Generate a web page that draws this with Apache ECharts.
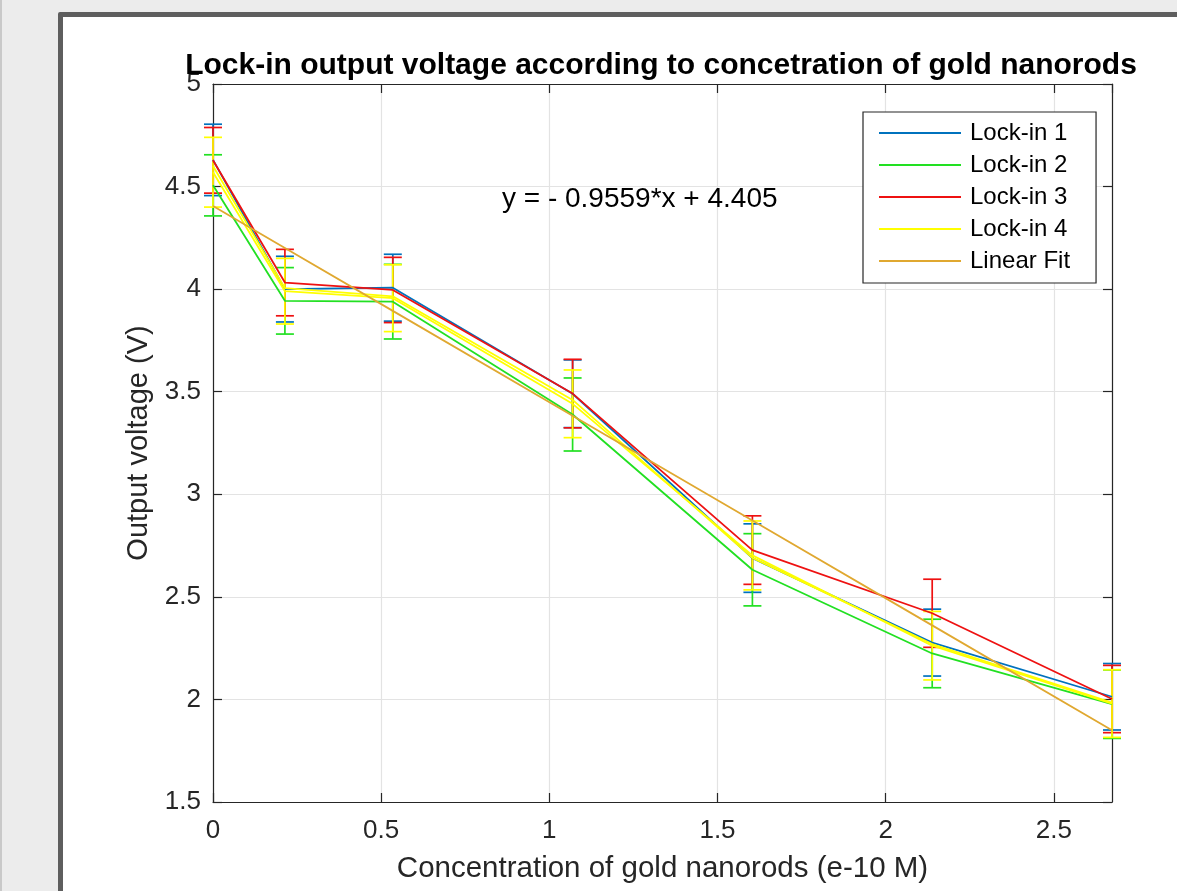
<!DOCTYPE html>
<html>
<head>
<meta charset="utf-8">
<script src="https://cdn.jsdelivr.net/npm/echarts@6/dist/echarts.min.js"></script>
<style>
  html, body { margin: 0; padding: 0; background: #ececec; width: 1177px; height: 891px; overflow: hidden; }
  #edge { position: absolute; left: 0; top: 0; width: 2px; height: 891px; background: #c9c9c9; }
  #frame { position: absolute; left: 58px; top: 12px; width: 1200px; height: 1000px; background: #ffffff; border: 5px solid #5e5e5e; border-radius: 2px; }
  #chart { position: absolute; left: 0; top: 0; width: 1177px; height: 891px; }
</style>
</head>
<body>
<div id="edge"></div>
<div id="frame"></div>
<div id="chart"></div>
<script>
// ---- data ----
const concentration = [0, 0.2138, 0.5346, 1.0692, 1.6038, 2.1384, 2.673];
const lockin1 = [4.63, 4.00, 4.007, 3.49, 2.689, 2.277, 2.013];
const lockin2 = [4.506, 3.943, 3.939, 3.389, 2.632, 2.224, 1.977];
const lockin3 = [4.628, 4.032, 3.996, 3.491, 2.728, 2.42, 2.002];
const lockin4 = [4.57, 3.99, 3.956, 3.441, 2.702, 2.262, 1.98];
const lockin4Extra = [4.60, 4.005, 3.965, 3.46, 2.69, 2.27, 1.985];
const err1 = [0.174, 0.16, 0.163, 0.165, 0.167, 0.163, 0.162];
const err2 = [0.149, 0.162, 0.182, 0.178, 0.176, 0.167, 0.167];
const err3 = [0.16, 0.162, 0.159, 0.167, 0.167, 0.166, 0.164];
const err4 = [0.17, 0.16, 0.163, 0.165, 0.168, 0.167, 0.165];
const fitValues = [4.405, 4.201, 3.894, 3.383, 2.872, 2.361, 1.850];
const seriesNames = ['Lock-in 1', 'Lock-in 2', 'Lock-in 3', 'Lock-in 4', 'Linear Fit'];
const fitLabel = 'y = - 0.9559*x + 4.405';
const titleText = 'Lock-in output voltage according to concetration of gold nanorods';
const xName = 'Concentration of gold nanorods (e-10 M)';
const yName = 'Output voltage (V)';

const colors = { c1: '#0072BD', c2: '#22E022', c3: '#EE1111', c4: '#FFFF00', fit: '#E0A830' };
const legendColors = [colors.c1, colors.c2, colors.c3, colors.c4, colors.fit];
const FONT = '"Liberation Sans", Arial, Helvetica, sans-serif';
const AX = '#262626';

function pairs(vals) { return concentration.map((x, i) => [x, vals[i]]); }
function errData(vals, errs) { return concentration.map((x, i) => [x, vals[i] - errs[i], vals[i] + errs[i]]); }

function errSeries(name, vals, errs, color) {
  return {
    type: 'custom', name: name, xAxisIndex: 0, yAxisIndex: 0,
    silent: true, clip: false, z: 3,
    data: errData(vals, errs),
    renderItem: function (params, api) {
      const x = api.value(0);
      const lo = api.coord([x, api.value(1)]);
      const hi = api.coord([x, api.value(2)]);
      const hw = 9;
      const st = { stroke: color, lineWidth: 1.7 };
      return { type: 'group', children: [
        { type: 'line', shape: { x1: hi[0], y1: hi[1], x2: lo[0], y2: lo[1] }, style: st },
        { type: 'line', shape: { x1: hi[0] - hw, y1: hi[1], x2: hi[0] + hw, y2: hi[1] }, style: st },
        { type: 'line', shape: { x1: lo[0] - hw, y1: lo[1], x2: lo[0] + hw, y2: lo[1] }, style: st }
      ]};
    }
  };
}
function lineSeries(name, vals, color, z) {
  return {
    type: 'line', name: name, data: pairs(vals), symbol: 'none', showSymbol: false,
    lineStyle: { color: color, width: 1.8 }, itemStyle: { color: color },
    z: z, animation: false, silent: true
  };
}

const chart = echarts.init(document.getElementById('chart'), null, { renderer: 'canvas' });
const axisCommon = {
  type: 'value',
  axisLine: { show: true, onZero: false, lineStyle: { color: AX, width: 1.2 } },
  axisTick: { show: true, inside: true, length: 9, lineStyle: { color: AX, width: 1.2 } },
};
const option = {
  animation: false,
  backgroundColor: 'transparent',
  title: {
    text: titleText, left: 656, top: 46, textAlign: 'center',
    textStyle: { fontFamily: FONT, fontSize: 30, fontWeight: 'bold', color: '#000' }
  },
  grid: { left: 213, right: 65, top: 84, bottom: 89, containLabel: false },
  legend: {
    orient: 'vertical', left: 863, top: 112,
    backgroundColor: '#ffffff', borderColor: AX, borderWidth: 1.2,
    padding: [9, 26, 10, 16],
    itemWidth: 82, itemHeight: 2, itemGap: 8,
    icon: 'rect',
    data: seriesNames.map((n, i) => ({ name: n, itemStyle: { color: legendColors[i] } })),
    textStyle: { fontFamily: FONT, fontSize: 24, lineHeight: 24, color: '#000', padding: [0, 0, 0, 4] }
  },
  xAxis: [
    Object.assign({}, axisCommon, {
      min: 0, max: 2.673, interval: 0.5, position: 'bottom',
      name: xName, nameLocation: 'middle', nameGap: 52,
      nameTextStyle: { fontFamily: FONT, fontSize: 29.5, color: AX },
      axisLabel: { fontFamily: FONT, fontSize: 26, color: AX, margin: 16, showMaxLabel: false },
      splitLine: { show: true, lineStyle: { color: '#e3e3e3', width: 1.2 } }
    }),
    Object.assign({}, axisCommon, {
      min: 0, max: 2.673, interval: 0.5, position: 'top',
      axisLabel: { show: false }, splitLine: { show: false }
    })
  ],
  yAxis: [
    Object.assign({}, axisCommon, {
      min: 1.5, max: 5, interval: 0.5, position: 'left',
      name: yName, nameLocation: 'middle', nameGap: 56,
      nameTextStyle: { fontFamily: FONT, fontSize: 29, color: AX },
      axisLabel: { fontFamily: FONT, fontSize: 26, color: AX, margin: 12 },
      splitLine: { show: true, lineStyle: { color: '#e3e3e3', width: 1.2 } }
    }),
    Object.assign({}, axisCommon, {
      min: 1.5, max: 5, interval: 0.5, position: 'right',
      axisLabel: { show: false }, splitLine: { show: false }
    })
  ],
  graphic: [{
    type: 'text', left: 502, top: 185, z: 10,
    style: { text: fitLabel, font: '28px ' + FONT, fill: '#000' }
  }],
  series: [
    errSeries('err1', lockin1, err1, colors.c1),
    lineSeries(seriesNames[0], lockin1, colors.c1, 4),
    errSeries('err2', lockin2, err2, colors.c2),
    lineSeries(seriesNames[1], lockin2, colors.c2, 4),
    errSeries('err3', lockin3, err3, colors.c3),
    lineSeries(seriesNames[2], lockin3, colors.c3, 4),
    errSeries('err4', lockin4, err4, colors.c4),
    lineSeries(seriesNames[3], lockin4, colors.c4, 5),
    lineSeries('Lock-in 4 mean', lockin4Extra, colors.c4, 5),
    lineSeries(seriesNames[4], fitValues, colors.fit, 6)
  ]
};
chart.setOption(option);
</script>
</body>
</html>
